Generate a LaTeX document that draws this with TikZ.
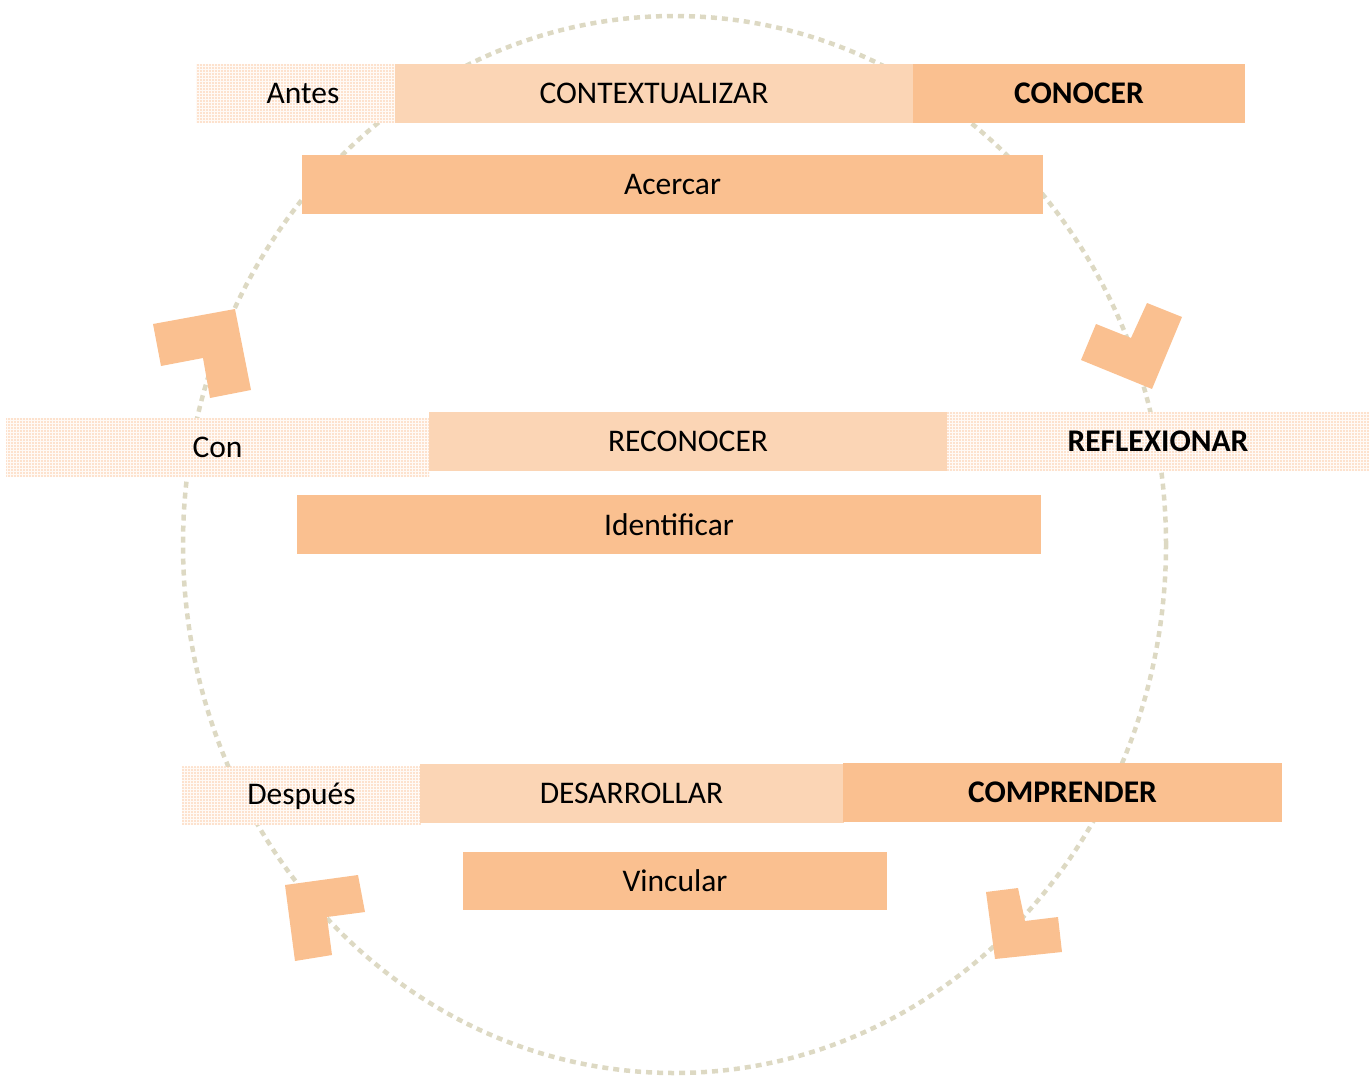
\documentclass[tikz,border=0pt]{standalone}
\usepackage{fontspec}
\setmainfont{Carlito}
\usetikzlibrary{patterns}
\definecolor{ringc}{HTML}{DDD9C3}
\definecolor{lightor}{HTML}{FBD5B5}
\definecolor{darkor}{HTML}{FAC090}
\definecolor{dotor}{HTML}{FBCBA6}
\definecolor{dotbg}{HTML}{FFFAF6}
\pgfdeclarepatternformonly{bigdots}{\pgfpoint{-1.5pt}{-1.5pt}}{\pgfpoint{1.5pt}{1.5pt}}{\pgfpoint{3pt}{3pt}}{%
  \pgfpathcircle{\pgfpointorigin}{0.85pt}\pgfusepath{fill}}
\tikzset{
  box/.style={inner sep=0pt, outer sep=0pt, minimum height=58.5pt, font=\fontsize{31.5}{36}\selectfont, text=black},
  lightbox/.style={box, fill=lightor},
  darkbox/.style={box, fill=darkor},
  dotbox/.style={box, fill=dotbg, postaction={pattern=bigdots, pattern color=dotor}},
  boldtxt/.style={font=\fontsize{31.5}{36}\selectfont\bfseries},
  ring/.style={draw=ringc, line width=4.5pt, dash pattern=on 6pt off 5pt},
  chev/.style={fill=darkor, draw=none}
}
\begin{document}
\begin{tikzpicture}[x=1pt,y=-1pt]
\useasboundingbox (0,0) rectangle (1369,1076);
% ring
\draw[ring] (674.5,544.5) ellipse [x radius=491.5pt, y radius=528.5pt];
% arrow heads (L shapes)
\fill[chev] (153,324) -- (235,309) -- (251,390) -- (210,398) -- (203,358) -- (161,366) -- cycle;
\fill[chev] (1147,303) -- (1182,317) -- (1152,389) -- (1081,360) -- (1096,324) -- (1131,338) -- cycle;
\fill[chev] (285,885) -- (358,875) -- (365,912) -- (327,917) -- (332,955) -- (295,961) -- cycle;
\fill[chev] (986,892) -- (1018,888) -- (1025,921) -- (1058,917) -- (1062,952) -- (995,959) -- cycle;
% row 1
\node[dotbox, minimum width=199pt] (antes) at (295.5,93.5) {\hspace*{15pt}Antes};
\node[lightbox, minimum width=518pt] (ctx) at (654,93.5) {CONTEXTUALIZAR};
\node[darkbox, minimum width=332pt, boldtxt] (conocer) at (1079,93.5) {CONOCER};
\node[darkbox, minimum width=741pt] (acercar) at (672.5,184.5) {Acercar};
% row 2
\node[dotbox, minimum width=423pt] (con) at (217.5,447.5) {Con};
\node[lightbox, minimum width=518pt] (reconocer) at (688,441.5) {RECONOCER};
\node[dotbox, minimum width=422pt, boldtxt] (reflex) at (1158,441.5) {REFLEXIONAR};
\node[darkbox, minimum width=744pt] (ident) at (669,524.5) {Identificar};
% row 3
\node[dotbox, minimum width=239pt] (despues) at (301.5,796) {Después};
\node[lightbox, minimum width=424pt] (desarr) at (631.5,793.5) {DESARROLLAR};
\node[darkbox, minimum width=439pt, boldtxt] (compr) at (1062.5,792.5) {COMPRENDER};
\node[darkbox, minimum width=424pt] (vinc) at (675,881) {Vincular};
\end{tikzpicture}
\end{document}
